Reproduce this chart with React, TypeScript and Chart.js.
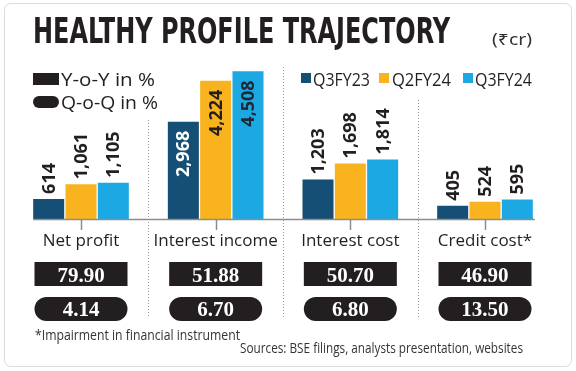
import React, { useEffect, useRef } from "react";
import { Chart, registerables } from "chart.js";

Chart.register(...registerables);

const categories = ["Net profit", "Interest income", "Interest cost", "Credit cost*"];
const seriesNames = ["Q3FY23", "Q2FY24", "Q3FY24"];
const q3fy23 = [614, 2968, 1203, 405];
const q2fy24 = [1061, 4224, 1698, 524];
const q3fy24 = [1105, 4508, 1814, 595];
const yoyPct = [79.9, 51.88, 50.7, 46.9];
const qoqPct = [4.14, 6.7, 6.8, 13.5];
const legendLeft = ["Y-o-Y in %", "Q-o-Q in %"];
const titleText = "HEALTHY PROFILE TRAJECTORY";
const unitText = "(₹cr)";
const footnoteText = "*Impairment in financial instrument";
const sourceText = "Sources: BSE filings, analysts presentation, websites";

const seriesColors = ["#154f75", "#f8b31e", "#1ca9e3"];
const insideLabelColors = ["#ffffff", "#231f20", "#1d2a36"];
const INK = "#231f20";
const Y_MAX = 4885;

function fitText(
  ctx: CanvasRenderingContext2D,
  text: string,
  x: number,
  y: number,
  w: number,
  font: string,
  color: string
) {
  ctx.save();
  ctx.font = font;
  ctx.fillStyle = color;
  ctx.textAlign = "left";
  ctx.textBaseline = "alphabetic";
  const m = ctx.measureText(text).width;
  const s = m > 0 ? w / m : 1;
  ctx.translate(x, y);
  ctx.scale(s, 1);
  ctx.fillText(text, 0, 0);
  ctx.restore();
}

const decorPlugin = {
  id: "decor",
  beforeDraw(chart: any) {
    const ctx: CanvasRenderingContext2D = chart.ctx;
    ctx.save();
    ctx.fillStyle = "#ffffff";
    ctx.fillRect(0, 0, chart.width, chart.height);
    ctx.beginPath();
    (ctx as any).roundRect(4.5, 3.5, 567, 363, 6);
    ctx.strokeStyle = "#dcdcdc";
    ctx.lineWidth = 1;
    ctx.stroke();
    ctx.restore();
  },
  afterDatasetsDraw(chart: any) {
    const ctx: CanvasRenderingContext2D = chart.ctx;
    const x = chart.scales.x;
    const area = chart.chartArea;
    const baseY = area.bottom;

    // value labels
    chart.data.datasets.forEach((ds: any, di: number) => {
      const meta = chart.getDatasetMeta(di);
      meta.data.forEach((bar: any, i: number) => {
        const v = ds.data[i] as number;
        const txt = v.toLocaleString("en-US");
        const h = bar.base - bar.y;
        ctx.save();
        ctx.font = "bold 18px 'Open Sans', 'Liberation Sans', sans-serif";
        ctx.textBaseline = "middle";
        ctx.translate(bar.x, h > 80 ? bar.y + 9 : bar.y - 5);
        ctx.rotate(-Math.PI / 2);
        if (h > 80) {
          ctx.textAlign = "right";
          ctx.fillStyle = insideLabelColors[di];
        } else {
          ctx.textAlign = "left";
          ctx.fillStyle = INK;
        }
        ctx.fillText(txt, 0, 1);
        ctx.restore();
      });
    });

    // baseline
    const m0 = chart.getDatasetMeta(0).data[0];
    const mLast = chart.getDatasetMeta(2).data[categories.length - 1];
    const x0 = m0.x - m0.width / 2;
    const x1 = mLast.x + mLast.width / 2 + 2;
    ctx.save();
    ctx.strokeStyle = "#8c8c8c";
    ctx.lineWidth = 1.5;
    ctx.beginPath();
    ctx.moveTo(x0, baseY + 0.5);
    ctx.lineTo(x1, baseY + 0.5);
    ctx.stroke();
    // center ticks
    categories.forEach((_, i) => {
      const cx = Math.round(x.getPixelForValue(i));
      ctx.beginPath();
      ctx.moveTo(cx + 0.5, baseY);
      ctx.lineTo(cx + 0.5, baseY + 11);
      ctx.stroke();
    });
    ctx.restore();

    // dotted separators
    const sepTops = [120, 67, 100];
    ctx.save();
    ctx.strokeStyle = "#9a9a9a";
    ctx.lineWidth = 1;
    ctx.setLineDash([1, 2]);
    for (let i = 0; i < categories.length - 1; i++) {
      const sx = Math.round((x.getPixelForValue(i) + x.getPixelForValue(i + 1)) / 2) + 0.5;
      ctx.beginPath();
      ctx.moveTo(sx, sepTops[i]);
      ctx.lineTo(sx, 318);
      ctx.stroke();
    }
    ctx.restore();

    // title + unit
    fitText(ctx, titleText, 33, 43, 417, "bold 36px 'Liberation Sans Narrow', 'DejaVu Sans Condensed', 'Liberation Sans', sans-serif", INK);
    fitText(ctx, unitText, 492, 45, 40, "16px 'Noto Sans', 'DejaVu Sans', sans-serif", "#333333");

    // left legend
    ctx.save();
    ctx.fillStyle = INK;
    ctx.fillRect(33, 73, 26, 12);
    ctx.beginPath();
    (ctx as any).roundRect(33, 96, 26, 12, 6);
    ctx.fill();
    ctx.restore();
    fitText(ctx, legendLeft[0], 61, 86, 94, "18px 'Open Sans', 'Liberation Sans', sans-serif", INK);
    fitText(ctx, legendLeft[1], 61, 109, 97, "18px 'Open Sans', 'Liberation Sans', sans-serif", INK);

    // right legend
    const sqX = [301, 379, 463];
    const txX = [313, 392, 475];
    const txW = [57, 59, 57];
    seriesNames.forEach((n, i) => {
      ctx.save();
      ctx.fillStyle = seriesColors[i];
      ctx.fillRect(sqX[i], 73, 10, 10);
      ctx.restore();
      fitText(ctx, n, txX[i], 86, txW[i], "18px 'Open Sans', 'Liberation Sans', sans-serif", INK);
    });

    // table rows
    categories.forEach((_, i) => {
      const cx = x.getPixelForValue(i);
      const bw = 93;
      ctx.save();
      ctx.fillStyle = INK;
      ctx.fillRect(cx - bw / 2, 262, bw, 24);
      ctx.beginPath();
      (ctx as any).roundRect(cx - bw / 2, 297, bw, 24, 12);
      ctx.fill();
      ctx.fillStyle = "#ffffff";
      ctx.font = "bold 21px 'Liberation Serif', 'DejaVu Serif', serif";
      ctx.textAlign = "center";
      ctx.textBaseline = "alphabetic";
      ctx.fillText(yoyPct[i].toFixed(2), cx, 282);
      ctx.fillText(qoqPct[i].toFixed(2), cx, 316);
      ctx.restore();
    });

    // footnotes
    fitText(ctx, footnoteText, 35, 340, 205, "14px 'Open Sans', 'Liberation Sans', sans-serif", "#333333");
    fitText(ctx, sourceText, 240, 353, 283, "14px 'Open Sans', 'Liberation Sans', sans-serif", "#333333");
  },
};

export default function App() {
  const ref = useRef<HTMLCanvasElement | null>(null);
  useEffect(() => {
    document.body.style.margin = "0";
    const canvas = ref.current;
    if (!canvas) return;
    const chart = new Chart(canvas, {
      type: "bar",
      data: {
        labels: categories,
        datasets: [
          { label: seriesNames[0], data: q3fy23, backgroundColor: seriesColors[0] },
          { label: seriesNames[1], data: q2fy24, backgroundColor: seriesColors[1] },
          { label: seriesNames[2], data: q3fy24, backgroundColor: seriesColors[2] },
        ],
      },
      options: {
        responsive: false,
        animation: false,
        devicePixelRatio: 1,
        layout: { padding: { left: 13.67, right: 23.67, top: 59, bottom: 112 } },
        datasets: { bar: { categoryPercentage: 0.72, barPercentage: 0.96 } },
        plugins: { legend: { display: false }, title: { display: false }, tooltip: { enabled: false } },
        scales: {
          x: {
            grid: { display: false, drawTicks: false, tickLength: 0 },
            border: { display: false },
            ticks: {
              padding: 12,
              color: INK,
              font: { family: "'Open Sans', 'Liberation Sans', sans-serif", size: 17 },
              maxRotation: 0,
              autoSkip: false,
            },
            afterFit: (s: any) => {
              s.height = 40;
            },
          },
          y: { display: false, min: 0, max: Y_MAX },
        },
      },
      plugins: [decorPlugin],
    } as any);
    return () => chart.destroy();
  }, []);
  return <canvas ref={ref} width={576} height={371} style={{ display: "block", width: 576, height: 371 }} />;
}
